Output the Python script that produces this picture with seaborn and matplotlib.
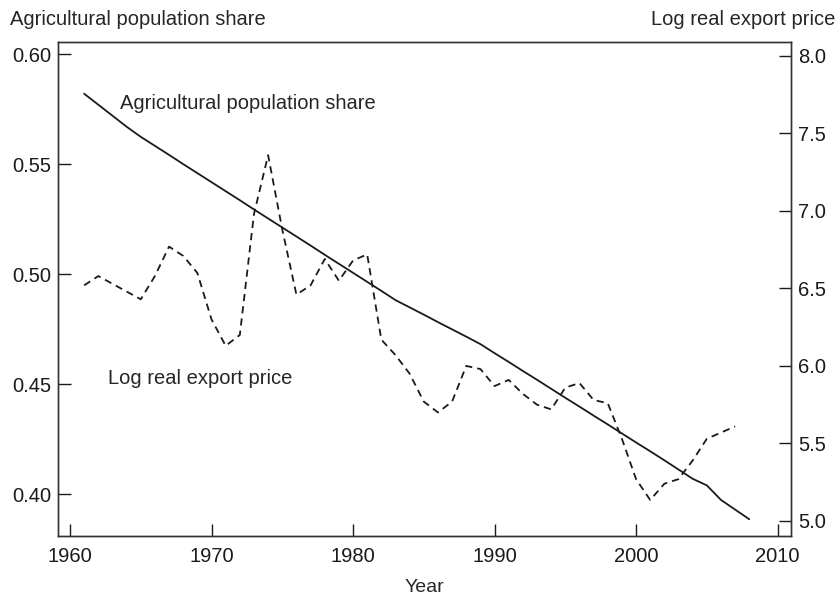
import numpy as np
import pandas as pd
import matplotlib
matplotlib.use("Agg")
import matplotlib.pyplot as plt
import seaborn as sns

# data
years_share = list(range(1961, 2009))
agri_share = [0.582, 0.577, 0.572, 0.567, 0.5624, 0.5583, 0.5542, 0.5500, 0.5459, 0.5418,
              0.5377, 0.5336, 0.5294, 0.5253, 0.5212, 0.5171, 0.5130, 0.5088, 0.5047, 0.5006,
              0.4965, 0.4924, 0.4882, 0.4849, 0.4816, 0.4782, 0.4749, 0.4716, 0.4682, 0.4641,
              0.4601, 0.4560, 0.4520, 0.4479, 0.4438, 0.4398, 0.4357, 0.4317, 0.4276, 0.4235,
              0.4195, 0.4154, 0.4112, 0.4070, 0.4040, 0.3974, 0.3930, 0.3886]

years_price = list(range(1961, 2008))
log_price = [6.52, 6.58, 6.53, 6.48, 6.43, 6.58, 6.77, 6.71, 6.60, 6.30,
             6.13, 6.20, 6.98, 7.36, 6.88, 6.46, 6.52, 6.69, 6.55, 6.68,
             6.72, 6.17, 6.07, 5.95, 5.77, 5.70, 5.77, 6.00, 5.98, 5.87,
             5.91, 5.82, 5.75, 5.72, 5.86, 5.89, 5.78, 5.76, 5.53, 5.27,
             5.135, 5.24, 5.27, 5.39, 5.53, 5.57, 5.61]

share_ticks = [0.40, 0.45, 0.50, 0.55, 0.60]
price_ticks = [5.0, 5.5, 6.0, 6.5, 7.0, 7.5, 8.0]
year_ticks = [1960, 1970, 1980, 1990, 2000, 2010]

share_df = pd.DataFrame({"year": years_share, "share": agri_share})
price_df = pd.DataFrame({"year": years_price, "price": log_price})

sns.set_style("white")
plt.rcParams["font.family"] = ["Liberation Sans", "DejaVu Sans"]
plt.rcParams["font.size"] = 14.5

fig = plt.figure(figsize=(8.39, 5.95), dpi=100)
ax = fig.add_axes([0.0691, 0.0992, 0.8737, 0.8302])
ax2 = ax.twinx()

sns.lineplot(data=share_df, x="year", y="share", ax=ax, color="#1a1a1a", linewidth=1.3)
sns.lineplot(data=price_df, x="year", y="price", ax=ax2, color="#1a1a1a", linewidth=1.3)
ax2.lines[0].set_dashes([4, 2.8])

ax.set_xlim(1959.15, 2010.95)
ax.set_ylim(0.381, 0.6055)
ax2.set_ylim(4.903, 8.09)

ax.set_xticks(year_ticks)
ax.set_yticks(share_ticks)
ax.set_yticklabels([f"{v:.2f}" for v in share_ticks])
ax2.set_yticks(price_ticks)
ax2.set_yticklabels([f"{v:.1f}" for v in price_ticks])

ax.tick_params(axis="x", bottom=True, direction="in", length=9, width=1,
               colors="#1a1a1a", labelsize=14.5, pad=8)
ax.tick_params(axis="y", left=True, right=False, direction="in", length=9, width=1,
               colors="#1a1a1a", labelsize=14.5, pad=5)
ax2.tick_params(axis="y", right=True, direction="in", length=9, width=1,
                colors="#1a1a1a", labelsize=14.5, pad=5)

for a in (ax, ax2):
    for s in a.spines.values():
        s.set_color("#333333")
        s.set_linewidth(1)

ax.set_xlabel("Year", fontsize=14, labelpad=9)
ax.set_ylabel("")
ax2.set_ylabel("")

fig.text(0.012, 0.968, "Agricultural population share", fontsize=14.5, va="center", ha="left")
fig.text(0.996, 0.968, "Log real export price", fontsize=14.5, va="center", ha="right")

ax.text(1963.54, 0.5777, "Agricultural population share", fontsize=14.5, va="center", ha="left")
ax.text(1962.69, 0.4527, "Log real export price", fontsize=14.5, va="center", ha="left")

fig.savefig("out.png", dpi=100)
